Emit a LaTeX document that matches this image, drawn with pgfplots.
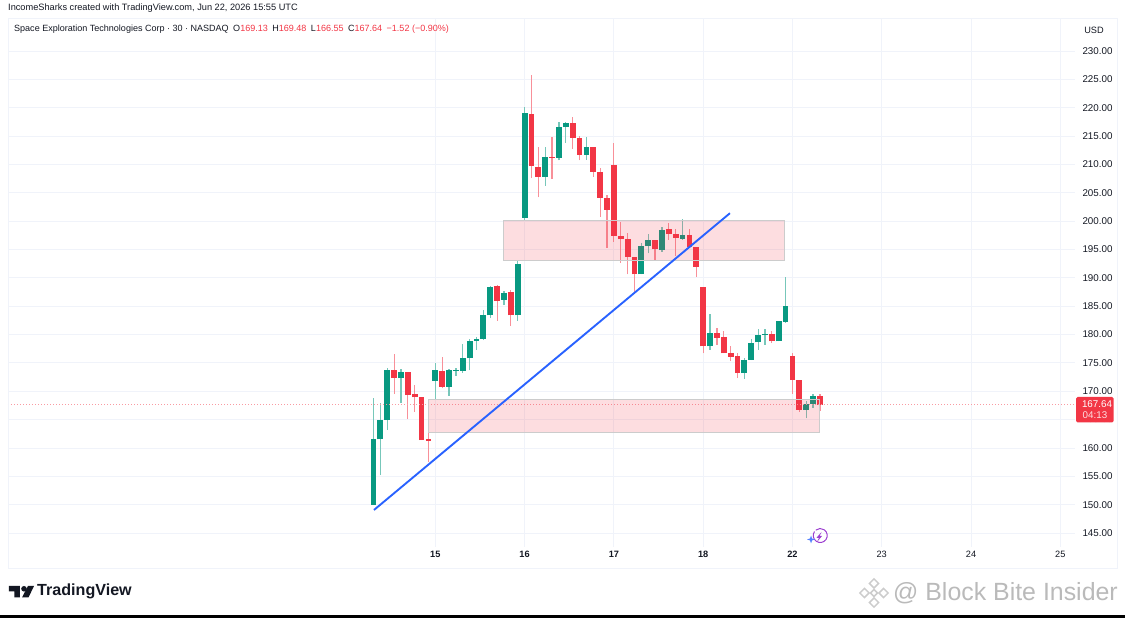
\documentclass[border=0pt]{standalone}
\usepackage{pgfplots}
\usepackage{pgfplotstable}
\usepackage{fontspec}
\setmainfont{Liberation Sans}
\pgfplotsset{compat=1.18}
\definecolor{up}{HTML}{089981}
\definecolor{dn}{HTML}{F23645}
\definecolor{gridc}{HTML}{F0F3FA}
\definecolor{txt}{HTML}{131722}
\definecolor{tl}{HTML}{2962FF}
\definecolor{bolt}{HTML}{9C3FD0}
\pgfplotstableread{
i o h l c
0 150.0 168.8 150.0 161.5
1 161.5 167.9 155.2 165.0
2 165.0 174.1 163.2 173.7
4 172.3 174.0 168.0 173.4
9 171.8 175.0 168.5 173.7
11 170.8 174.0 169.2 173.7
12 173.6 174.1 172.7 173.8
13 173.6 178.4 173.3 175.8
14 175.8 179.2 173.7 178.9
15 178.9 179.5 177.3 179.3
16 179.3 184.4 179.0 183.4
17 183.4 188.6 182.9 188.4
19 186.1 187.6 185.2 187.4
21 183.4 193.0 182.4 192.4
22 200.6 220.1 200.2 219.1
25 207.8 213.0 206.2 211.3
27 211.2 217.5 210.7 216.6
28 216.6 217.5 213.8 217.3
31 211.7 214.9 210.8 213.0
39 190.6 196.1 190.6 195.6
40 195.6 197.7 194.3 196.7
42 194.9 199.0 194.6 198.4
45 196.9 200.3 196.7 197.6
49 177.9 183.6 177.3 180.2
54 173.2 175.8 172.2 175.5
55 175.5 179.3 175.5 178.5
56 178.6 180.9 177.3 179.9
57 179.9 180.9 178.2 180.1
59 178.8 182.4 178.8 182.4
60 182.3 190.1 182.1 185.0
63 166.7 168.3 165.2 167.7
64 167.8 169.6 167.1 169.2
}\green
\pgfplotstableread{
i o h l c
3 173.7 176.6 169.5 172.3
5 173.4 173.4 165.1 169.3
6 169.5 171.1 166.4 168.9
7 169.0 169.0 161.4 161.4
8 161.5 163.2 157.6 161.2
10 173.6 176.0 170.5 170.8
18 188.6 188.8 182.4 186.0
20 187.5 187.9 181.5 183.4
23 218.9 225.7 207.6 209.7
24 209.6 213.1 204.2 207.8
26 211.4 214.9 207.4 211.2
29 217.3 218.3 212.8 214.7
30 214.7 215.0 210.7 211.7
32 213.0 213.0 207.8 208.7
33 208.7 209.3 200.8 204.1
34 204.0 204.6 195.3 202.0
35 209.9 213.7 196.4 197.4
36 197.4 199.9 192.7 196.8
37 196.8 197.9 190.6 193.7
38 193.7 193.7 187.4 190.6
41 196.7 196.7 193.1 195.0
43 198.6 199.7 196.7 197.7
44 197.7 198.6 193.9 197.0
46 197.6 198.6 195.5 195.5
47 195.5 195.5 190.2 192.0
48 188.4 188.4 176.7 177.9
50 180.2 181.2 178.2 179.4
51 179.6 180.6 176.7 176.7
52 176.7 177.9 175.3 176.1
53 176.2 176.8 172.3 173.2
58 180.1 180.6 178.5 178.8
61 176.2 176.8 169.6 172.0
62 172.0 172.0 166.4 166.7
65 169.13 169.48 166.55 167.64
}\red
\begin{document}
\begin{tikzpicture}
\useasboundingbox (-8pt,-71pt) rectangle (1117pt,547pt);
\begin{axis}[
  at={(0pt,0pt)},anchor=south west,
  scale only axis,width=1067pt,height=529pt,
  xmin=-53.22,xmax=102.14,ymin=142.53,ymax=235.83,
  axis line style={draw=none},
  major tick length=0pt,
  xtick={9,22,35,48,61,74,87,100},
  xticklabels={\textbf{15},\textbf{16},\textbf{17},\textbf{18},\textbf{22},23,24,25},
  ytick={145,150,155,160,165,170,175,180,185,190,195,200,205,210,215,220,225,230},
  yticklabel pos=right,
  yticklabel style={font=\fontsize{9.8}{11}\selectfont,text=txt,anchor=west,xshift=4pt,
    /pgf/number format/.cd,fixed,fixed zerofill,precision=2,assume math mode=true},
  xticklabel style={font=\fontsize{9.2}{11}\selectfont,text=txt,yshift=-1pt},
  grid=major,major grid style={gridc,line width=0.8pt},
  error bars/error mark=none,
]
% wicks
\addplot[draw=none,mark=none,error bars/.cd,y dir=plus,y explicit,
  error bar style={draw=up!55!white,line width=1.2pt}]
  table[x=i,y=l,y error plus expr=\thisrow{h}-\thisrow{l}]{\green};
\addplot[draw=none,mark=none,error bars/.cd,y dir=plus,y explicit,
  error bar style={draw=dn!55!white,line width=1.2pt}]
  table[x=i,y=l,y error plus expr=\thisrow{h}-\thisrow{l}]{\red};
% bodies
\addplot[draw=none,mark=none,error bars/.cd,y dir=plus,y explicit,
  error bar style={draw=up,line width=5.8pt,line cap=butt}]
  table[x=i,y=o,y error plus expr=\thisrow{c}-\thisrow{o}]{\green};
\addplot[draw=none,mark=none,error bars/.cd,y dir=plus,y explicit,
  error bar style={draw=dn,line width=5.8pt,line cap=butt}]
  table[x=i,y=c,y error plus expr=\thisrow{o}-\thisrow{c}]{\red};
% last price line
\addplot[dn!50!white,line width=0.7pt,dash pattern=on 1pt off 2pt] coordinates {(-53.22,167.64) (102.14,167.64)};
% zones
\addplot[draw=black!20,line width=0.9pt,fill=dn,fill opacity=0.17] coordinates {(18.85,193.1) (59.9,193.1) (59.9,200.2) (18.85,200.2)} --cycle;
\addplot[draw=black!20,line width=0.9pt,fill=dn,fill opacity=0.17] coordinates {(7.93,162.8) (64.9,162.8) (64.9,168.6) (7.93,168.6)} --cycle;
% trend line
\addplot[tl,line width=1.9pt] coordinates {(0.07,149.06) (51.9,201.4)};
\end{axis}
\begin{scope}[shift={(-8pt,547pt)},x=1pt,y=-1pt]
  % frame
  \draw[gridc,line width=0.9pt] (8,18) -- (1117,18) (8,18) -- (8,568) -- (1117,568) -- (1117,18);
  \fill[black] (0,615) rectangle (1125,618);
  % header
  \node[anchor=west,inner sep=0,text=txt,font=\fontsize{9.22}{11}\selectfont] at (8,8.5) {IncomeSharks created with TradingView.com, Jun 22, 2026 15:55 UTC};
  \node[anchor=west,inner sep=0,text=txt,font=\fontsize{9.02}{11}\selectfont] at (14,29.5)
    {Space Exploration Technologies Corp · 30 · NASDAQ\hspace{4.5pt}O\textcolor{dn}{169.13}\hspace{4.5pt}H\textcolor{dn}{169.48}\hspace{4.5pt}L\textcolor{dn}{166.55}\hspace{4.5pt}C\textcolor{dn}{167.64}\hspace{4.5pt}\textcolor{dn}{−1.52 (−0.90\%)}};
  \node[anchor=center,inner sep=0,text=txt,font=\fontsize{9.2}{11}\selectfont] at (1094,30.5) {USD};
  % price label
  \fill[dn,rounded corners=1.5pt] (1076,397) rectangle (1113.5,422.5);
  \node[text=white,inner sep=0,font=\fontsize{9.8}{11}\selectfont] at (1097,404.5) {167.64};
  \node[text=white!85!dn,inner sep=0,font=\fontsize{9.8}{11}\selectfont,anchor=west] at (1082.5,415.5) {04:13};
  % bolt icon
  \draw[bolt,line width=1pt] (814.5,531.5) arc[start angle=215,end angle=-130,radius=7];
  \fill[bolt] (821.5,532) -- (816.5,537.8) -- (819,537.8) -- (817,542) -- (822,536) -- (819.5,536) -- cycle;
  \fill[tl!80!white] (811,535.5) -- (812,538.5) -- (815,539.5) -- (812,540.5) -- (811,543.5) -- (810,540.5) -- (807,539.5) -- (810,538.5) -- cycle;
  % TradingView logo
  \fill[txt] (9,586) -- (20,586) -- (20,597.5) -- (14.5,597.5) -- (14.5,591.5) -- (9,591.5) -- cycle;
  \fill[txt] (24,588.8) circle (2.8);
  \fill[txt] (28,586) -- (34,586) -- (28.5,597.5) -- (22,597.5) -- cycle;
  \node[anchor=west,inner sep=0,text=txt,font=\fontsize{16.1}{18}\selectfont\bfseries] at (37,591.5) {TradingView};
  % watermark
  \begin{scope}[shift={(874,593)},rotate=45,draw=black!20,line width=1.5pt]
    \draw (-10,-10) rectangle (-3.5,-3.5);
    \draw (3.5,3.5) rectangle (10,10);
    \draw (3.5,-10) rectangle (10,-3.5);
    \draw (-10,3.5) rectangle (-3.5,10);
    \draw (-2.5,-2.5) rectangle (2.5,2.5);
  \end{scope}
  \node[anchor=west,inner sep=0,text=black!27,font=\fontsize{24.9}{28}\selectfont] at (893,593.5) {@ Block Bite Insider};
\end{scope}
\end{tikzpicture}
\end{document}
